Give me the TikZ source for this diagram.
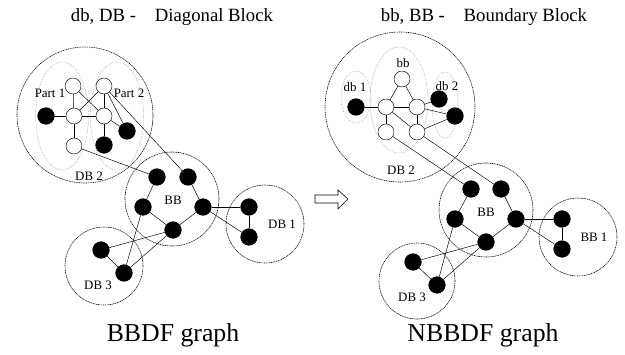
\documentclass[tikz,border=0pt]{standalone}
\usepackage{fontspec}
\setmainfont{Liberation Serif}
\usetikzlibrary{positioning,shapes.geometric}

\begin{document}
\begin{tikzpicture}[%
    x=0.03cm, y=-0.03cm,
    block/.style={%
        draw,
        circle,
        dash pattern=on 0.9pt off 0.6pt,
        line width=0.5pt,
        inner sep=0pt
    },
    part/.style={%
        draw=gray!70,
        ellipse,
        densely dotted,
        line width=0.55pt,
        inner sep=0pt
    },
    vertex/.style={%
        draw,
        circle,
        fill=white,
        inner sep=0pt,
        minimum size=0.48cm
    },
    boundary/.style={%
        draw,
        circle,
        fill=black,
        inner sep=0pt,
        minimum size=0.5cm
    },
    lbl/.style={%
        inner sep=0pt,
        font=\fontsize{11}{12}\selectfont
    },
    title/.style={%
        inner sep=0pt,
        font=\fontsize{16}{19}\selectfont
    },
    caption/.style={%
        inner sep=0pt,
        font=\fontsize{22}{26}\selectfont
    }
]
\useasboundingbox (0,0) rectangle (625,354);

% Titles
    \node[title] (titleL) at (172,17) {db, DB -\hspace{1em}Diagonal Block};
    \node[title] (titleR) at (484,17) {bb, BB -\hspace{1em}Boundary Block};
    \node[caption] (captionL) at (173,335) {BBDF graph};
    \node[caption] (captionR) at (483,335) {NBBDF graph};

% Left: blocks
    \node[block, minimum size=4.08cm] (db2L) at (85,115) {};
    \node[part, minimum width=1.59cm, minimum height=3.24cm] (part1) at (62,116) {};
    \node[part, minimum width=1.6cm, minimum height=3.24cm] (part2) at (117,116) {};
    \node[block, minimum size=2.82cm] (bbL) at (172,199) {};
    \node[block, minimum size=2.34cm] (db1L) at (265,224) {};
    \node[block, minimum size=2.34cm] (db3L) at (104,266) {};
    \node[lbl] (part1Lbl) at (50,93) {Part 1};
    \node[lbl] (part2Lbl) at (129,93) {Part 2};
    \node[lbl] (db2LLbl) at (89,176) {DB 2};
    \node[lbl] (bbLLbl) at (173,200) {BB};
    \node[lbl] (db1LLbl) at (282,224) {DB 1};
    \node[lbl] (db3LLbl) at (98,285) {DB 3};

% Left: DB 2 vertices
    \node[vertex] (lA) at (73,86) {};
    \node[vertex] (lB) at (104,86) {};
    \node[boundary] (lC) at (46,116) {};
    \node[vertex] (lD) at (74,116) {};
    \node[vertex] (lE) at (104,116) {};
    \node[boundary] (lF) at (127,131) {};
    \node[boundary] (lG) at (104,145) {};
    \node[vertex] (lH) at (74,146) {};

% Left: BB, DB 1, DB 3 vertices
    \node[boundary] (lbb1) at (157,177) {};
    \node[boundary] (lbb2) at (188,177) {};
    \node[boundary] (lbb3) at (143,207) {};
    \node[boundary] (lbb4) at (203,207) {};
    \node[boundary] (lbb5) at (173,230) {};
    \node[boundary] (ldb1a) at (249,207) {};
    \node[boundary] (ldb1b) at (249,237) {};
    \node[boundary] (ldb3a) at (101,250) {};
    \node[boundary] (ldb3b) at (124,273) {};

% Left: edges
\draw (lA) -- (lD);
\draw (lD) -- (lH);
\draw (lC) -- (lD);
\draw (lD) -- (lE);
\draw (lA) -- (lE);
\draw (lB) -- (lD);
\draw (lB) -- (lE);
\draw (lB) -- (lF);
\draw (lE) -- (lF);
\draw (lE) -- (lG);
\draw (lB) -- (lbb2);
\draw (lH) -- (lbb1);

\draw (lbb1) -- (lbb3);
\draw (lbb3) -- (lbb5);
\draw (lbb5) -- (lbb4);
\draw (lbb4) -- (lbb2);
\draw (lbb4) -- (ldb1a);
\draw (lbb4) -- (ldb1b);
\draw (ldb1a) -- (ldb1b);
\draw (ldb3a) -- (lbb5);
\draw (ldb3b) -- (lbb5);
\draw (ldb3b) -- (lbb3);
\draw (ldb3a) -- (ldb3b);

% Arrow
\draw[line width=0.5pt, line join=miter]
    (315,195) -- (338,195) -- (338,190) -- (348,199) -- (338,209)
    -- (338,203) -- (315,203) -- cycle;

% Right: blocks
    \node[block, minimum size=4.5cm] (db2R) at (400,107) {};
    \node[part, minimum width=1.74cm, minimum height=3.18cm] (bbpart) at (399,100) {};
    \node[part, minimum width=0.9cm, minimum height=1.56cm] (db1part) at (356,97) {};
    \node[part, minimum width=0.78cm, minimum height=1.98cm] (db2part) at (445,105) {};
    \node[block, minimum size=2.82cm] (bbR) at (486,210) {};
    \node[block, minimum size=2.34cm] (bb1R) at (578,237) {};
    \node[block, minimum size=2.28cm] (db3R) at (417,281) {};
    \node[lbl] (bbpartLbl) at (403,63) {bb};
    \node[lbl] (db1partLbl) at (355,87) {db 1};
    \node[lbl] (db2partLbl) at (447,86) {db 2};
    \node[lbl] (db2RLbl) at (401,170) {DB 2};
    \node[lbl] (bbRLbl) at (486,212) {BB};
    \node[lbl] (bb1RLbl) at (594,237) {BB 1};
    \node[lbl] (db3RLbl) at (412,297) {DB 3};

% Right: DB 2 vertices
    \node[vertex] (rA) at (402,79) {};
    \node[vertex] (rB) at (386,107) {};
    \node[vertex] (rC) at (417,107) {};
    \node[vertex] (rD) at (386,132) {};
    \node[vertex] (rE) at (417,132) {};
    \node[boundary] (rF) at (356,107) {};
    \node[boundary] (rG) at (439,99) {};
    \node[boundary] (rH) at (455,116) {};

% Right: BB, BB 1, DB 3 vertices
    \node[boundary] (rbb1) at (471,189) {};
    \node[boundary] (rbb2) at (501,189) {};
    \node[boundary] (rbb3) at (455,219) {};
    \node[boundary] (rbb4) at (516,219) {};
    \node[boundary] (rbb5) at (486,242) {};
    \node[boundary] (rbb1a) at (562,219) {};
    \node[boundary] (rbb1b) at (562,249) {};
    \node[boundary] (rdb3a) at (413,262) {};
    \node[boundary] (rdb3b) at (437,285) {};

% Right: edges
\draw (rA) -- (rB);
\draw (rA) -- (rC);
\draw (rB) -- (rC);
\draw (rF) -- (rB);
\draw (rB) -- (rD);
\draw (rC) -- (rE);
\draw (rB) -- (rE);
\draw (rC) -- (rG);
\draw (rC) -- (rH);
\draw (rE) -- (rH);
\draw (rD) -- (rbb1);
\draw (rE) -- (rbb2);

\draw (rbb1) -- (rbb3);
\draw (rbb3) -- (rbb5);
\draw (rbb5) -- (rbb4);
\draw (rbb4) -- (rbb2);
\draw (rbb4) -- (rbb1a);
\draw (rbb4) -- (rbb1b);
\draw (rbb1a) -- (rbb1b);
\draw (rdb3a) -- (rbb5);
\draw (rdb3b) -- (rbb5);
\draw (rdb3b) -- (rbb3);
\draw (rdb3a) -- (rdb3b);

\end{tikzpicture}
\end{document}
